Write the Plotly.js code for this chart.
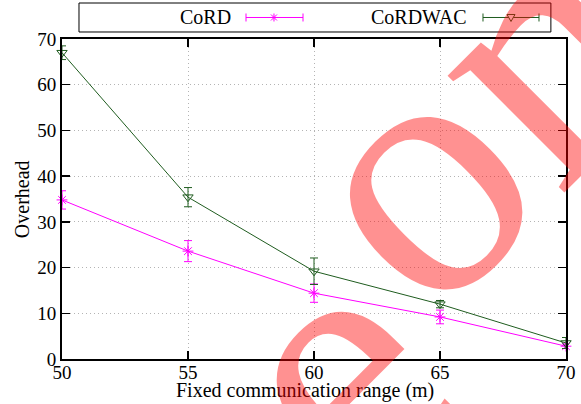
<!DOCTYPE html>
<html>
<head>
<meta charset="utf-8">
<script src="https://cdn.plot.ly/plotly-3.0.1.min.js"></script>
<style>html,body{margin:0;padding:0;background:#fff;}#chart{width:581px;height:404px;}</style>
</head>
<body>
<div id="chart"></div>
<script>
var ranges = [50, 55, 60, 65, 70];
var cordValues = [34.8, 23.6, 14.4, 9.2, 2.8];
var cordErrors = [2.0, 2.3, 2.0, 1.5, 0.5];
var cordwacValues = [67.0, 35.4, 19.2, 12.0, 3.5];
var cordwacErrors = [1.5, 2.1, 2.9, 0.8, 1.2];
var xTicks = [50, 55, 60, 65, 70];
var yTicks = [0, 10, 20, 30, 40, 50, 60, 70];
var seriesNames = ['CoRD', 'CoRDWAC'];
var xTitle = 'Fixed communication range (m)';
var yTitle = 'Overhead';

var MAGENTA = '#ff00ff';
var GREEN = '#1f5c1f';
var SERIF = 'Liberation Serif, Times New Roman, serif';
var WM = 'rgba(255,0,0,0.43)';

var traces = [
  {
    x: ranges, y: cordValues, name: seriesNames[0], type: 'scatter', mode: 'lines+markers',
    line: {color: MAGENTA, width: 1},
    marker: {symbol: 'asterisk-open', size: 9, color: MAGENTA, line: {color: MAGENTA, width: 1}},
    error_y: {type: 'data', array: cordErrors, visible: true, color: MAGENTA, thickness: 1, width: 4},
    cliponaxis: false
  },
  {
    x: ranges, y: cordwacValues, name: seriesNames[1], type: 'scatter', mode: 'lines+markers',
    line: {color: GREEN, width: 1},
    marker: {symbol: 'triangle-down-open', size: 9, color: GREEN, line: {color: GREEN, width: 1}},
    error_y: {type: 'data', array: cordwacErrors, visible: true, color: GREEN, thickness: 1, width: 4},
    cliponaxis: false
  }
];

var legY = 1.0672;
var shapes = [
  {type: 'rect', xref: 'paper', yref: 'paper', x0: 0.0337, x1: 0.970, y0: 1.0219, y1: 1.1125,
   line: {color: '#000', width: 1}, fillcolor: 'rgba(0,0,0,0)'}
];
function legendSample(xa, xb, xm, color, kind) {
  shapes.push({type: 'line', xref: 'paper', yref: 'paper', x0: xa, x1: xb, y0: legY, y1: legY, line: {color: color, width: 1}});
  [xa, xb].forEach(function (xc) {
    shapes.push({type: 'line', xref: 'paper', yref: 'paper', ysizemode: 'pixel', yanchor: legY,
      x0: xc, x1: xc, y0: -4, y1: 4, line: {color: color, width: 1}});
  });
  if (kind === 'asterisk') {
    [[-4, 0, 4, 0], [0, -4, 0, 4], [-3, -3, 3, 3], [-3, 3, 3, -3]].forEach(function (s) {
      shapes.push({type: 'line', xref: 'paper', yref: 'paper', xsizemode: 'pixel', ysizemode: 'pixel',
        xanchor: xm, yanchor: legY, x0: s[0], y0: s[1], x1: s[2], y1: s[3], line: {color: color, width: 1}});
    });
  } else {
    shapes.push({type: 'path', xref: 'paper', yref: 'paper', xsizemode: 'pixel', ysizemode: 'pixel',
      xanchor: xm, yanchor: legY, path: 'M-4,3 L4,3 L0,-4 Z', fillcolor: '#fff', line: {color: color, width: 1}});
  }
}
legendSample(0.3651, 0.4782, 0.4206, MAGENTA, 'asterisk');
legendSample(0.8353, 0.9464, 0.8909, GREEN, 'triangle');

var annotations = [
  {xref: 'paper', yref: 'paper', x: 0.3393, y: legY, xanchor: 'right', yanchor: 'middle', showarrow: false,
   text: seriesNames[0], font: {family: SERIF, size: 20, color: '#000'}},
  {xref: 'paper', yref: 'paper', x: 0.8075, y: legY, xanchor: 'right', yanchor: 'middle', showarrow: false,
   text: seriesNames[1], font: {family: SERIF, size: 20, color: '#000'}},
  {xref: 'paper', yref: 'paper', x: 0.482, y: -0.099, xanchor: 'center', yanchor: 'middle', showarrow: false,
   text: xTitle, font: {family: SERIF, size: 20, color: '#000'}},
  {xref: 'paper', yref: 'paper', x: -0.079, y: 0.5, xanchor: 'center', yanchor: 'middle', showarrow: false,
   text: yTitle, textangle: -90, font: {family: SERIF, size: 20, color: '#000'}},
  {xref: 'paper', yref: 'paper', x: 0.815, y: 0.769, xanchor: 'center', yanchor: 'middle', showarrow: false,
   text: 'on', textangle: -45, font: {family: SERIF, size: 360, color: WM}},
  {xref: 'paper', yref: 'paper', x: 0.5317, y: -0.034, xanchor: 'center', yanchor: 'middle', showarrow: false,
   text: 'e', textangle: -45, font: {family: SERIF, size: 360, color: WM}}
];

var axisCommon = {
  showline: true, linecolor: '#000', linewidth: 2, mirror: 'ticks',
  ticks: 'inside', ticklen: 8, tickwidth: 1.5, tickcolor: '#000',
  showgrid: true, gridcolor: '#b4b4b4', griddash: '1px,3px', gridwidth: 1,
  zeroline: false, tickfont: {family: SERIF, size: 19, color: '#000'}
};

var layout = {
  width: 581, height: 404,
  margin: {l: 62, r: 15, t: 39, b: 45},
  paper_bgcolor: '#fff', plot_bgcolor: '#fff',
  showlegend: false,
  xaxis: Object.assign({}, axisCommon, {
    range: [50, 70], tickvals: xTicks, ticktext: xTicks.map(String), ticklabelstandoff: -5
  }),
  yaxis: Object.assign({}, axisCommon, {
    range: [0, 70], tickvals: yTicks, ticktext: yTicks.map(String)
  }),
  shapes: shapes,
  annotations: annotations
};

Plotly.newPlot('chart', traces, layout, {displayModeBar: false, staticPlot: true});
</script>
</body>
</html>
